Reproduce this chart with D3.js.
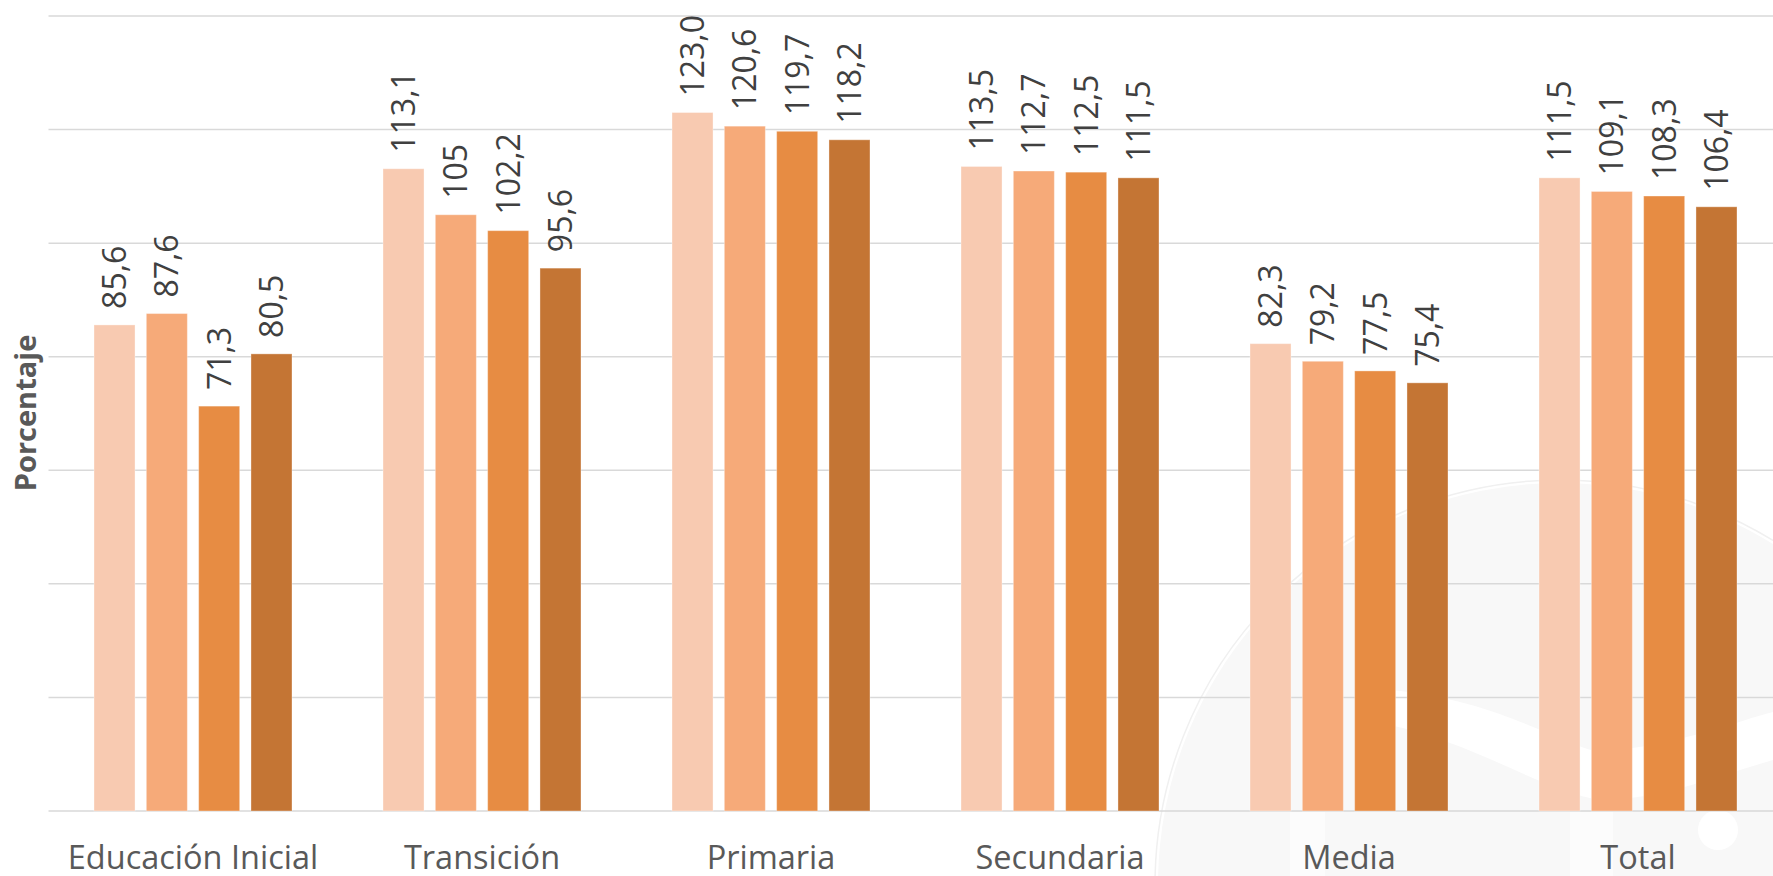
<!DOCTYPE html>
<html>
<head>
<meta charset="utf-8">
<script src="https://cdn.jsdelivr.net/npm/d3@7"></script>
<style>
  html, body { margin: 0; padding: 0; background: #fff; overflow: hidden; }
  text { font-family: "Open Sans", sans-serif; }
</style>
</head>
<body>
<div id="chart"></div>
<script>
// ---------- DATA ----------
var categories = ["Educación Inicial", "Transición", "Primaria", "Secundaria", "Media", "Total"];
var seriesNames = ["s1", "s2", "s3", "s4"];
var s1 = [85.6, 113.1, 123.0, 113.5, 82.3, 111.5];
var s2 = [87.6, 105, 120.6, 112.7, 79.2, 109.1];
var s3 = [71.3, 102.2, 119.7, 112.5, 77.5, 108.3];
var s4 = [80.5, 95.6, 118.2, 111.5, 75.4, 106.4];
var s1Labels = ["85,6", "113,1", "123,0", "113,5", "82,3", "111,5"];
var s2Labels = ["87,6", "105", "120,6", "112,7", "79,2", "109,1"];
var s3Labels = ["71,3", "102,2", "119,7", "112,5", "77,5", "108,3"];
var s4Labels = ["80,5", "95,6", "118,2", "111,5", "75,4", "106,4"];
var colors = ["#F8CAB1", "#F6AA79", "#E78C43", "#C47534"];
var yTicks = [0, 20, 40, 60, 80, 100, 120, 140];
var yTitle = "Porcentaje";

var allValues = [s1, s2, s3, s4];
var allLabels = [s1Labels, s2Labels, s3Labels, s4Labels];

// ---------- PAGE ----------
var W = 1773, H = 876;

var svg = d3.select('#chart').append('svg')
    .attr('width', W)
    .attr('height', H);

var x0 = d3.scaleBand()
    .domain(categories)
    .range([48.5, 1782.5])
    .padding(0);

var x1 = d3.scaleBand()
    .domain(seriesNames)
    .range([-99, 99])
    .paddingInner(0.216)
    .paddingOuter(0);

var y = d3.scaleLinear()
    .domain([0, 140])
    .range([811, 16]);

// faint watermark in the background
var wm = svg.append('g');
wm.append('circle')
    .attr('cx', 1560).attr('cy', 885).attr('r', 402)
    .attr('fill', '#f8f8f8');
wm.append('circle')
    .attr('cx', 1560).attr('cy', 885).attr('r', 405)
    .attr('fill', 'none').attr('stroke', '#f0f0f0').attr('stroke-width', 1.5);
wm.append('path')
    .attr('d', 'M1390,690 C1500,700 1560,745 1600,752 C1680,745 1740,720 1773,712 L1773,760 C1720,775 1660,800 1600,800 C1540,790 1480,745 1390,725 Z')
    .attr('fill', '#ffffff');
wm.append('rect').attr('x', 1290).attr('y', 812).attr('width', 35).attr('height', 64).attr('fill', '#fcfcfc');
wm.append('rect').attr('x', 1570).attr('y', 812).attr('width', 43).attr('height', 64).attr('fill', '#fcfcfc');
wm.append('circle').attr('cx', 1718).attr('cy', 830).attr('r', 20).attr('fill', '#ffffff');

// gridlines
svg.append('g')
    .selectAll('line')
    .data(yTicks)
    .enter()
    .append('line')
        .attr('x1', 48.5)
        .attr('x2', W)
        .attr('y1', function(d){ return y(d); })
        .attr('y2', function(d){ return y(d); })
        .attr('stroke', '#d9d9d9')
        .attr('stroke-width', 1.5);

// bars
var groups = svg.selectAll('g.cat')
    .data(categories)
    .enter()
    .append('g')
        .attr('class', 'cat')
        .attr('transform', function(d){
            return 'translate(' + (x0(d) + x0.bandwidth() / 2) + ',0)';
        });

function rows(d, i){
    return seriesNames.map(function(s, j){
        return {s: s, j: j, v: allValues[j][i], label: allLabels[j][i]};
    });
}

groups.selectAll('rect')
    .data(rows)
    .enter()
    .append('rect')
        .attr('x', function(d){ return x1(d.s); })
        .attr('width', x1.bandwidth())
        .attr('y', function(d){ return y(d.v); })
        .attr('height', function(d){ return y(0) - y(d.v); })
        .attr('fill', function(d){ return colors[d.j]; })
        .attr('stroke', 'rgba(255,255,255,0.35)')
        .attr('stroke-width', 1);

// value labels (rotated)
groups.selectAll('text.val')
    .data(rows)
    .enter()
    .append('text')
        .attr('class', 'val')
        .attr('transform', function(d){
            var cx = x1(d.s) + x1.bandwidth() / 2;
            return 'translate(' + cx + ',' + (y(d.v) - 16) + ') rotate(-90)';
        })
        .attr('dy', '0.36em')
        .attr('text-anchor', 'start')
        .attr('font-size', 32)
        .attr('fill', '#404040')
        .text(function(d){ return d.label; });

// category labels
svg.append('g')
    .selectAll('text')
    .data(categories)
    .enter()
    .append('text')
        .attr('x', function(d){ return x0(d) + x0.bandwidth() / 2; })
        .attr('y', 869)
        .attr('text-anchor', 'middle')
        .attr('font-size', 32.5)
        .attr('fill', '#595959')
        .text(function(d){ return d; });

// y axis title
svg.append('text')
    .attr('transform', 'translate(36,413) rotate(-90)')
    .attr('text-anchor', 'middle')
    .attr('font-size', 29)
    .attr('font-weight', 'bold')
    .attr('fill', '#595959')
    .text(yTitle);
</script>
</body>
</html>
